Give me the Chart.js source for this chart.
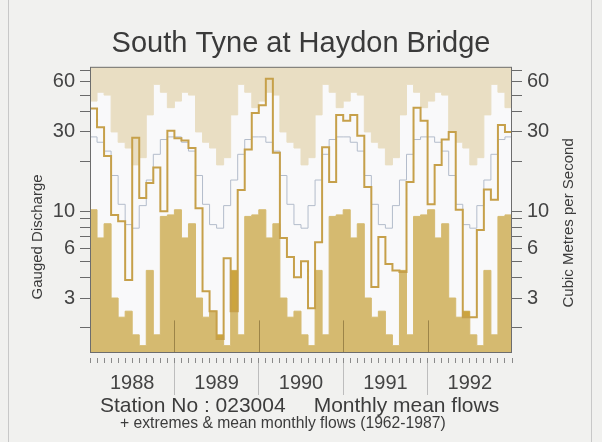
<!DOCTYPE html>
<html lang="en">
  <head>
    <meta charset="UTF-8" />
    <title>South Tyne at Haydon Bridge</title>
    <script src="https://cdn.jsdelivr.net/npm/chart.js"></script>
    <style>
      html,
      body {
        margin: 0;
        padding: 0;
        background: #f1f1ef;
      }
      .page {
        position: relative;
        width: 602px;
        height: 442px;
        overflow: hidden;
        font-family: "Liberation Sans", Arial, sans-serif;
        color: #3c3c3c;
      }
      .frame {
        position: absolute;
        left: 8px;
        top: 0;
        width: 584px;
        height: 442px;
        box-sizing: border-box;
        border-left: 1px solid #c8c8c8;
        border-right: 1px solid #c8c8c8;
      }
      .chart-box {
        position: absolute;
        left: 0;
        top: 0;
        width: 602px;
        height: 442px;
      }
      .station {
        position: absolute;
        left: 100px;
        top: 394px;
        font-size: 21px;
        line-height: 21px;
        white-space: pre;
      }
      .station span {
        margin-left: 28px;
      }
      .note {
        position: absolute;
        left: 120px;
        top: 415px;
        font-size: 15.7px;
        line-height: 16px;
        white-space: pre;
      }
    </style>
  </head>
  <body>
    <div class="page">
      <div class="frame"></div>
      <div class="chart-box"><canvas id="flowChart"></canvas></div>
      <div class="station">Station No : 023004<span>Monthly mean flows</span></div>
      <div class="note">+ extremes &amp; mean monthly flows (1962-1987)</div>
    </div>

    <script>
      // record period 1962-1987, by calendar month (Jan..Dec)
      const months = ["Jan", "Feb", "Mar", "Apr", "May", "Jun", "Jul", "Aug", "Sep", "Oct", "Nov", "Dec"];
      const maxFlow = [46, 52, 50, 30, 26, 24, 19, 21, 38, 58, 52, 42];
      const minFlow = [10.2, 6.9, 8.4, 3.0, 2.3, 2.5, 1.8, 1.55, 4.4, 1.8, 9.3, 9.5];
      const meanFlow = [28, 26, 23, 16.4, 11, 8.3, 7.9, 10.8, 15.4, 22, 27, 28];

      // monthly mean flows, m3/s
      const years = ["1988", "1989", "1990", "1991", "1992"];
      const flow1988 = [41.5, 32, 21.5, 9.5, 8.7, 3.85, 27.7, 12, 14.8, 18.3, 10, 30.5];
      const flow1989 = [27.5, 26.6, 24, 10.4, 3.3, 2.5, 1.7, 5.2, 2.5, 13.4, 23.5, 39];
      const flow1990 = [43.5, 62.8, 22.5, 6.9, 5.3, 4.0, 5.0, 2.6, 6.5, 24.3, 15, 38];
      const flow1991 = [35, 38, 28.5, 14, 3.5, 7.0, 4.8, 4.4, 4.3, 15, 42, 35];
      const flow1992 = [11, 19, 27, 30, 10.2, 2.3, 2.3, 7.7, 13.5, 11.7, 33, 30];

      const yTicks = [2, 3, 4, 5, 6, 7, 8, 9, 10, 20, 30, 40, 50, 60, 70];
      const yLabels = [3, 6, 10, 30, 60];

      const flows = [].concat(flow1988, flow1989, flow1990, flow1991, flow1992);
      const perYear = (arr) => years.flatMap(() => arr);
      const maxAll = perYear(maxFlow);
      const minAll = perYear(minFlow);
      const meanAll = perYear(meanFlow);
      const belowMin = flows.map((v, i) => Math.min(v, minAll[i]));

      // month i holds its value from x=i to x=i+1
      function steps(arr) {
        const pts = arr.map((v, i) => ({ x: i, y: v }));
        pts.push({ x: arr.length, y: arr[arr.length - 1] });
        return pts;
      }

      function yAxis(position) {
        return {
          type: "logarithmic",
          position: position,
          min: 1.4,
          max: 74,
          afterBuildTicks: (s) => {
            s.ticks = yTicks.map((v) => ({ value: v }));
          },
          afterFit: (s) => {
            s.width = 90;
          },
          ticks: {
            autoSkip: false,
            callback: (v) => (yLabels.includes(v) ? String(v) : ""),
            font: { size: 20 },
            color: "#444",
            padding: 5,
          },
          grid: { drawOnChartArea: false, tickLength: 10, color: "#6a6a6a" },
          border: { display: false },
        };
      }

      const plotDecor = {
        id: "plotDecor",
        beforeDatasetsDraw(chart) {
          const { ctx, chartArea: a } = chart;
          ctx.save();
          ctx.fillStyle = "#f9f9fa";
          ctx.fillRect(a.left, a.top, a.right - a.left, a.bottom - a.top);
          ctx.restore();
        },
        afterDatasetsDraw(chart) {
          const { ctx, chartArea: a, scales } = chart;
          ctx.save();
          // short year marks at the foot of the plot
          ctx.strokeStyle = "rgba(110, 88, 40, 0.55)";
          ctx.lineWidth = 1;
          for (let k = 1; k < years.length; k++) {
            const x = Math.round(scales.x.getPixelForValue(k * months.length)) + 0.5;
            ctx.beginPath();
            ctx.moveTo(x, a.bottom);
            ctx.lineTo(x, scales.y.getPixelForValue(2.2));
            ctx.stroke();
          }
          ctx.strokeStyle = "#6d6d6d";
          ctx.strokeRect(a.left + 0.5, a.top + 0.5, a.right - a.left - 1, a.bottom - a.top - 1);

          // side titles, both reading upwards
          ctx.fillStyle = "#3c3c3c";
          ctx.font = '15px "Liberation Sans", Arial, sans-serif';
          ctx.textAlign = "center";
          ctx.textBaseline = "middle";
          const mid = (a.top + a.bottom) / 2;
          ctx.translate(a.left - 52, mid + 27);
          ctx.rotate(-Math.PI / 2);
          ctx.fillText("Gauged Discharge", 0, 0);
          ctx.setTransform(1, 0, 0, 1, 0, 0);
          ctx.translate(a.right + 57, mid + 13);
          ctx.rotate(-Math.PI / 2);
          ctx.fillText("Cubic Metres per Second", 0, 0);
          ctx.restore();
        },
      };

      Chart.defaults.font.family = '"Liberation Sans", Arial, sans-serif';

      new Chart(document.getElementById("flowChart"), {
        type: "line",
        data: {
          datasets: [
            {
              label: "Monthly mean flows",
              data: steps(flows),
              stepped: true,
              borderColor: "#c6a04a",
              borderWidth: 2,
              pointRadius: 0,
              fill: false,
              order: 1,
            },
            {
              label: "Mean monthly flows",
              data: steps(meanAll),
              stepped: true,
              borderColor: "#b3bccb",
              borderWidth: 1,
              pointRadius: 0,
              fill: false,
              order: 2,
            },
            {
              label: "Below minimum",
              data: steps(belowMin),
              stepped: true,
              borderColor: "rgba(0,0,0,0)",
              backgroundColor: "#cca43e",
              pointRadius: 0,
              fill: 3,
              order: 3,
            },
            {
              label: "Minimum",
              data: steps(minAll),
              stepped: true,
              borderColor: "#d5ba70",
              borderWidth: 1,
              backgroundColor: "#d5ba70",
              pointRadius: 0,
              fill: "start",
              order: 4,
            },
            {
              label: "Maximum",
              data: steps(maxAll),
              stepped: true,
              borderColor: "#e9dec3",
              borderWidth: 1,
              backgroundColor: "#e9dec3",
              pointRadius: 0,
              fill: "end",
              order: 5,
            },
          ],
        },
        options: {
          responsive: true,
          maintainAspectRatio: false,
          animation: false,
          layout: { padding: { left: 0, right: 0, top: 0, bottom: 39 } },
          plugins: {
            legend: { display: false },
            tooltip: { enabled: false },
            title: {
              display: true,
              text: "South Tyne at Haydon Bridge",
              color: "#3a3a3a",
              font: { size: 29, weight: "normal" },
              padding: { top: 27, bottom: 5 },
            },
          },
          scales: {
            x: {
              type: "linear",
              position: "bottom",
              min: 0,
              max: flows.length,
              afterBuildTicks: (s) => {
                s.ticks = steps(flows).map((p) => ({ value: p.x }));
              },
              afterFit: (s) => {
                s.height = 10;
              },
              ticks: { display: false },
              grid: {
                drawOnChartArea: false,
                tickLength: 10,
                color: "#8a8a8a",
                tickBorderDash: [5, 5],
                tickBorderDashOffset: 5,
              },
              border: { display: false },
            },
            x2: {
              type: "category",
              labels: years,
              position: "bottom",
              offset: true,
              afterFit: (s) => {
                s.height = 40;
              },
              ticks: { font: { size: 20 }, color: "#444", padding: -24 },
              grid: {
                offset: true,
                drawOnChartArea: false,
                tickLength: 32,
                color: (c) =>
                  c.type !== "tick" || c.index === 0 ? "rgba(0,0,0,0)" : "#bdbdbd",
              },
              border: { display: false },
            },
            y: yAxis("left"),
            y2: yAxis("right"),
          },
        },
        plugins: [plotDecor],
      });
    </script>
  </body>
</html>
